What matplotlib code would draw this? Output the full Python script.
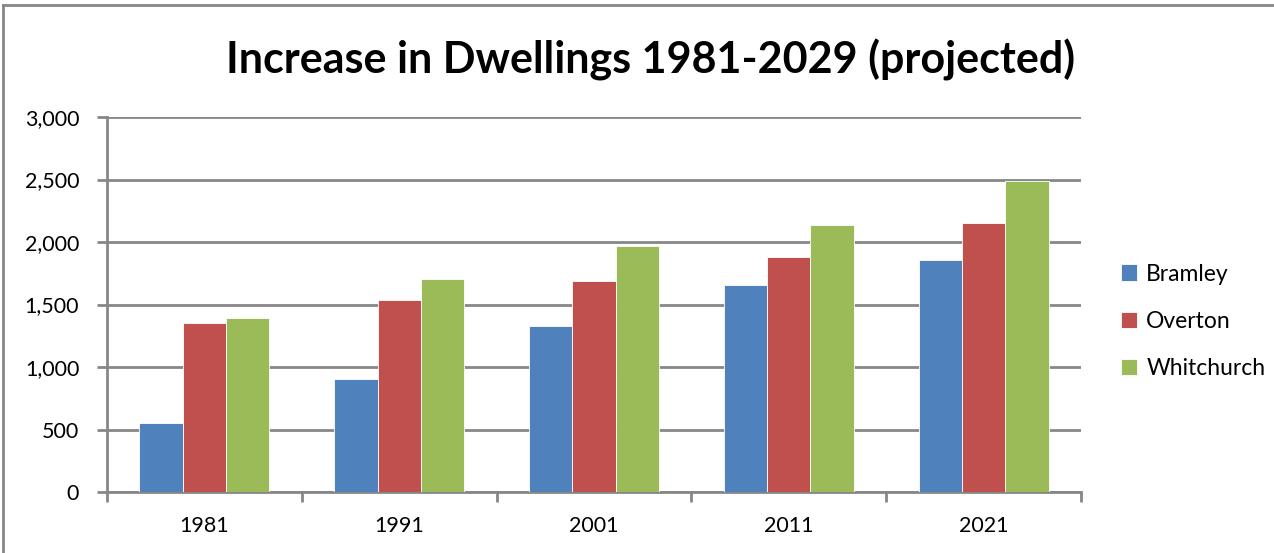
import matplotlib.pyplot as plt
import numpy as np
from matplotlib.lines import Line2D

years = ['1981', '1991', '2001', '2011', '2021']
bramley = [550, 905, 1332, 1660, 1857]
overton = [1352, 1540, 1692, 1881, 2152]
whitchurch = [1392, 1708, 1967, 2136, 2490]
series = ['Bramley', 'Overton', 'Whitchurch']
colors = ['#4F81BD', '#C0504D', '#9BBB59']

plt.rcParams['font.family'] = ['Lato', 'DejaVu Sans']

fig = plt.figure(figsize=(12.74, 5.53), dpi=100)
ax = fig.add_axes([107/1274, 1 - 492/553, 974/1274, 375/553])

x = np.arange(len(years))
w = 1 / 4.5
for i, (vals, name, c) in enumerate(zip([bramley, overton, whitchurch], series, colors)):
    ax.bar(x + (i - 1) * w, vals, w, color=c, label=name, edgecolor='white', linewidth=0.6, zorder=3)

ax.set_xlim(-0.5, len(years) - 0.5)
ax.set_ylim(0, 3000)
ax.set_yticks(range(0, 3001, 500))
ax.set_yticklabels([f'{v:,}' for v in range(0, 3001, 500)], fontsize=15.5)
ax.set_xticks(x)
ax.set_xticklabels(years, fontsize=15.5)
ax.set_xticks(np.arange(-0.5, len(years)), minor=True)
ax.tick_params(axis='x', which='major', length=0, pad=17)
ax.tick_params(axis='x', which='minor', length=7, width=2, color='#878787')
ax.tick_params(axis='y', length=7, width=2, color='#878787', pad=13)
ax.grid(axis='y', color='#878787', linewidth=2, zorder=0)
for s in ['top', 'right']:
    ax.spines[s].set_visible(False)
for s in ['left', 'bottom']:
    ax.spines[s].set_color('#878787')
    ax.spines[s].set_linewidth(2)

fig.text(651/1274, 1 - 60/553, 'Increase in Dwellings 1981-2029 (projected)',
         fontsize=31, fontweight='bold', ha='center', va='center')

ax.legend(loc='center left', bbox_to_anchor=(1.02, 0.455), frameon=False, fontsize=16.5,
          handlelength=0.7, handleheight=0.7, handletextpad=0.4, labelspacing=1.15)

fig.add_artist(Line2D([3/1274, 1], [1 - 5/553, 1 - 5/553], color='#878787', linewidth=2))
fig.add_artist(Line2D([3/1274, 3/1274], [0, 1 - 5/553], color='#878787', linewidth=2))

fig.savefig('out.png', dpi=100)
